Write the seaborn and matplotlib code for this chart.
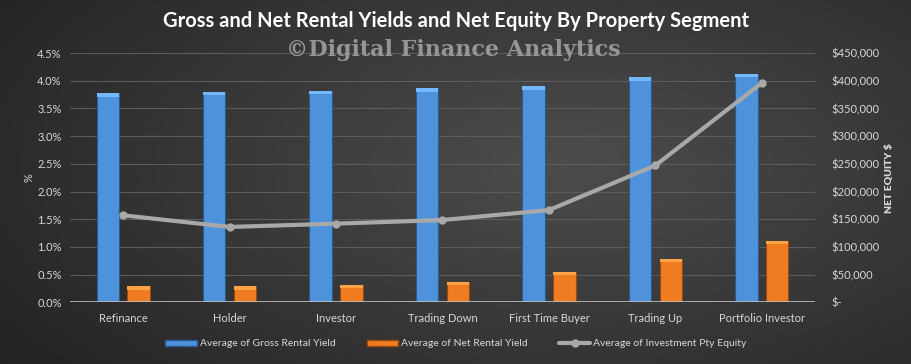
import numpy as np
import pandas as pd
import matplotlib
matplotlib.use("Agg")
import matplotlib.pyplot as plt
from matplotlib.lines import Line2D
from matplotlib.patches import Patch
import seaborn as sns

categories = ["Refinance", "Holder", "Investor", "Trading Down",
              "First Time Buyer", "Trading Up", "Portfolio Investor"]
gross_yield = [3.77, 3.80, 3.82, 3.86, 3.90, 4.06, 4.12]
net_yield = [0.29, 0.29, 0.32, 0.37, 0.55, 0.78, 1.11]
equity = [157000, 136000, 142000, 148500, 166500, 247000, 396000]
left_ticks = [0, 0.5, 1.0, 1.5, 2.0, 2.5, 3.0, 3.5, 4.0, 4.5]
right_ticks = [0, 50000, 100000, 150000, 200000, 250000, 300000, 350000, 400000, 450000]

s_gross = "Average of Gross Rental Yield"
s_net = "Average of Net Rental Yield"
s_eq = "Average of Investment Pty Equity"

df = pd.DataFrame({
    "cat": categories * 2,
    "val": gross_yield + net_yield,
    "series": [s_gross] * len(categories) + [s_net] * len(categories),
})

sns.set_theme(style="dark")
plt.rcParams["font.family"] = ["Lato", "DejaVu Sans"]

BLUE = "#4e92dc"
ORANGE = "#f07c22"
LINE = "#a8a8a8"
TXT = "#d8d8d8"
GRID = "#5c5c5c"

fig = plt.figure(figsize=(9.12, 3.64), dpi=100)

# background radial gradient
bg = fig.add_axes([0, 0, 1, 1], zorder=-10)
yy, xx = np.mgrid[0:1:364j, 0:1:912j]
r = np.sqrt(((xx - 0.62) / 0.75) ** 2 + ((yy - 0.45) / 0.9) ** 2)
g = np.clip(0.30 - 0.16 * r, 0.13, 0.31)
img = np.dstack([g, g, g])
bg.imshow(img, aspect="auto", extent=[0, 1, 0, 1])
bg.axis("off")

ax = fig.add_axes([70 / 912, 1 - 302.3 / 364, 745 / 912, 249.3 / 364])
ax.set_facecolor("none")

sns.barplot(data=df, x="cat", y="val", hue="series", order=categories,
            hue_order=[s_gross, s_net], palette=[BLUE, ORANGE],
            width=0.58, gap=0.27, ax=ax, legend=False,
            edgecolor="#2b5a8c", linewidth=0.8, saturation=1)
for p in ax.patches[len(categories):]:
    p.set_edgecolor("#9a4a10")
# top bevel highlight
for p in list(ax.patches):
    x0, w = p.get_x(), p.get_width()
    h = p.get_height()
    fc = p.get_facecolor()
    hl = tuple(min(1, c + 0.15) for c in fc[:3])
    hh = min(0.06, h * 0.25)
    ax.bar(x0 + w / 2, hh, bottom=h - hh, width=w, color=hl,
           linewidth=0, zorder=p.get_zorder() + 0.1)

ax.set_ylim(0, 4.5)
ax.set_xlim(-0.5, len(categories) - 0.5)
ax.set_yticks(left_ticks)
ax.set_yticklabels([f"{t:.1f}%" for t in left_ticks])
ax.yaxis.grid(True, color=GRID, linewidth=0.8)
ax.xaxis.grid(False)
ax.set_axisbelow(True)
for s in ax.spines.values():
    s.set_visible(False)
ax.axhline(0, color="#bfbfbf", linewidth=1.2, zorder=5)
ax.tick_params(axis="both", colors=TXT, labelsize=8, length=0, pad=6)
ax.tick_params(axis="x", pad=8)
ax.set_xlabel("")
ax.set_ylabel("%", color=TXT, fontsize=8, labelpad=2)

ax2 = ax.twinx()
ax2.set_facecolor("none")
sns.lineplot(x=np.arange(len(categories)), y=equity, ax=ax2, color=LINE,
             linewidth=3, marker="o", markersize=6, markeredgewidth=0)
ax2.set_ylim(0, 450000)
ax2.set_yticks(right_ticks)
ax2.set_yticklabels(["$-" if t == 0 else f"${t:,.0f}" for t in right_ticks])
ax2.tick_params(axis="y", colors=TXT, labelsize=8, length=0, pad=12)
for s in ax2.spines.values():
    s.set_visible(False)
ax2.grid(False)
ax2.set_ylabel("NET EQUITY $", color=TXT, fontsize=7.5, fontweight="heavy", labelpad=4)
ax2.set_xlim(-0.5, len(categories) - 0.5)

fig.text(0.5, 1 - 21 / 364, "Gross and Net Rental Yields and Net Equity By Property Segment",
         ha="center", va="center", color="white", fontsize=14.5, fontweight="bold")
fig.text(0.497, 1 - 50 / 364, "©Digital Finance Analytics", ha="center", va="center",
         color="#a0a0a0", alpha=0.9, fontsize=16, fontweight="bold",
         family=["DejaVu Serif"])

handles = [Patch(facecolor=BLUE, edgecolor="#2b5a8c"),
           Patch(facecolor=ORANGE, edgecolor="#9a4a10"),
           Line2D([0], [0], color=LINE, linewidth=3, marker="o", markersize=5)]
fig.legend(handles, [s_gross, s_net, s_eq], loc="center", ncol=3,
           bbox_to_anchor=(0.5, 1 - 344 / 364), frameon=False, fontsize=7.5,
           labelcolor=TXT, handlelength=3, handleheight=0.6, columnspacing=3,
           handletextpad=0.3)

fig.savefig("out.png", dpi=100)
